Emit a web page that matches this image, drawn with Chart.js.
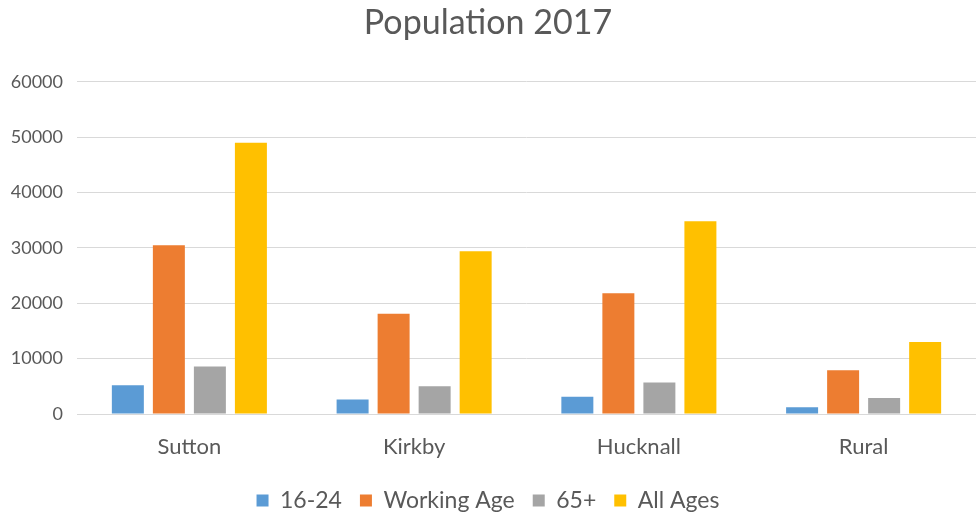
<!DOCTYPE html>
<html>
<head>
<meta charset="utf-8">
<script src="https://cdn.jsdelivr.net/npm/chart.js@4/dist/chart.umd.min.js"></script>
<style>
  html, body { margin: 0; padding: 0; background: #ffffff; }
  #wrap { width: 976px; height: 515px; }
</style>
</head>
<body>
<div id="wrap"><canvas id="c" width="976" height="515"></canvas></div>
<script>
// Areas
const areas = ['Sutton', 'Kirkby', 'Hucknall', 'Rural'];

// Population by age group
const age16to24   = [5200, 2600, 3100, 1200];
const workingAge  = [30500, 18100, 21800, 7900];
const age65plus   = [8600, 5000, 5700, 2900];
const allAges     = [49000, 29400, 34800, 13000];

// Value axis ticks
const yTicks = [0, 10000, 20000, 30000, 40000, 50000, 60000];

const FONT = 'Lato, "Open Sans", sans-serif';
const TEXT = '#595959';

new Chart(document.getElementById('c'), {
  type: 'bar',
  data: {
    labels: areas,
    datasets: [
      { label: '16-24',       data: age16to24,  backgroundColor: '#5B9BD5' },
      { label: 'Working Age', data: workingAge, backgroundColor: '#ED7D31' },
      { label: '65+',         data: age65plus,  backgroundColor: '#A5A5A5' },
      { label: 'All Ages',    data: allAges,    backgroundColor: '#FFC000' }
    ]
  },
  options: {
    responsive: false,
    animation: false,
    layout: { padding: { left: 0, right: 0, top: 0, bottom: -7 } },
    datasets: { bar: { categoryPercentage: 0.73, barPercentage: 0.78 } },
    plugins: {
      title: {
        display: true,
        text: 'Population 2017',
        color: TEXT,
        font: { family: FONT, size: 34, weight: 'normal' },
        padding: { top: 3, bottom: 38 }
      },
      legend: {
        position: 'bottom',
        labels: {
          color: TEXT,
          font: { family: FONT, size: 23 },
          boxWidth: 12,
          boxHeight: 12,
          padding: 18
        }
      },
      tooltip: { enabled: false }
    },
    scales: {
      x: {
        afterFit: (scale) => { scale.height = 57; },
        grid: { display: false, drawTicks: false },
        border: { display: true, color: '#D9D9D9', width: 1 },
        ticks: { color: TEXT, font: { family: FONT, size: 22 }, padding: 20 }
      },
      y: {
        min: 0,
        max: 60000,
        afterFit: (scale) => { scale.width = 77; },
        afterBuildTicks: (scale) => { scale.ticks = yTicks.map(v => ({ value: v })); },
        grid: { color: '#D9D9D9', lineWidth: 1, drawTicks: false },
        border: { display: false },
        ticks: {
          color: TEXT,
          font: { family: FONT, size: 18 },
          padding: 14,
          callback: (v) => String(v)
        }
      }
    }
  }
});
</script>
</body>
</html>
